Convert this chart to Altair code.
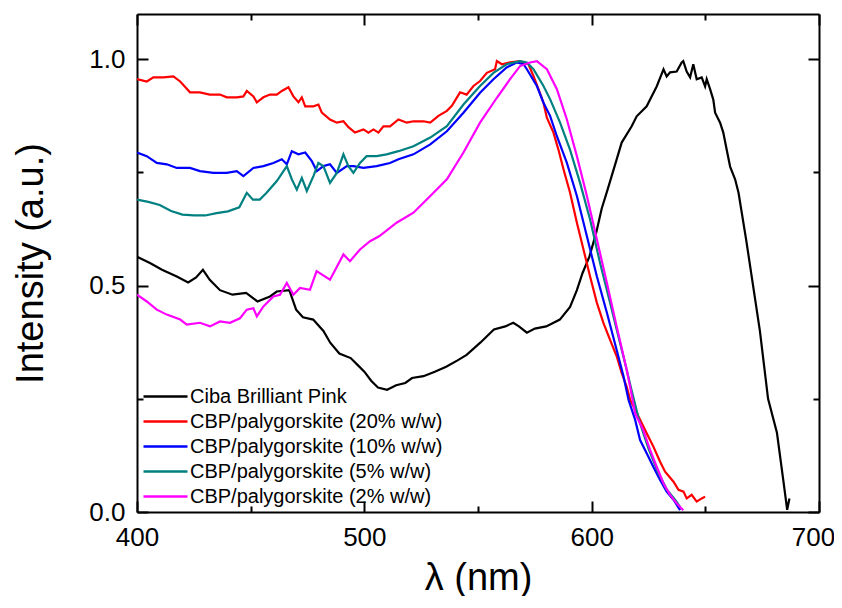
import altair as alt
import pandas as pd

# ---------------- data ----------------
names = [
    "Ciba Brilliant Pink",
    "CBP/palygorskite (20% w/w)",
    "CBP/palygorskite (10% w/w)",
    "CBP/palygorskite (5% w/w)",
    "CBP/palygorskite (2% w/w)",
]
colors = ["#000000", "#FF0000", "#0000FF", "#008080", "#FF00FF"]

ciba_wl = [400, 405.7, 411, 417.5, 422.5, 426, 429, 432, 436.5, 442, 448, 453, 458.5, 461.5, 467, 470,
           473, 477.5, 482, 485, 489, 494, 497, 500, 503, 506, 510, 514, 518, 521, 526, 531, 536, 541,
           545, 551, 557, 562, 565.5, 568, 571.5, 575, 580, 586, 590.5, 593.5, 596, 599, 602, 604.4,
           607, 611, 613.2, 617.6, 619.8, 624.2, 625.7, 628.6, 631.6, 633, 634.5, 637.4, 639.6, 640.3,
           641.8, 643.3, 644.7, 646.2, 648.4, 649.9, 650.6, 652.1, 653.5, 654.3, 656.5, 657.9, 659.4,
           660.9, 663.1, 664.6, 668, 671, 674, 677.6, 681.5, 684.3, 686, 687]
ciba_int = [0.564, 0.55, 0.535, 0.52, 0.507, 0.518, 0.535, 0.513, 0.49, 0.48, 0.484, 0.465, 0.476, 0.487,
            0.49, 0.447, 0.43, 0.425, 0.40, 0.374, 0.35, 0.34, 0.325, 0.31, 0.29, 0.275, 0.27, 0.28,
            0.285, 0.296, 0.30, 0.31, 0.321, 0.335, 0.347, 0.374, 0.403, 0.41, 0.418, 0.41, 0.396,
            0.405, 0.41, 0.425, 0.453, 0.49, 0.528, 0.564, 0.617, 0.67, 0.712, 0.779, 0.816, 0.852,
            0.874, 0.896, 0.911, 0.94, 0.978, 0.962, 0.971, 0.973, 0.993, 0.996, 0.973, 0.96, 0.989,
            0.956, 0.96, 0.94, 0.956, 0.934, 0.911, 0.882, 0.86, 0.838, 0.80, 0.763, 0.735, 0.705,
            0.60, 0.50, 0.40, 0.25, 0.175, 0.07, 0.005, 0.03]

p20_wl = [400, 404.3, 407.2, 411.6, 416, 419, 421, 423.3, 427.7, 432, 436.5, 439.5, 443.9, 446.8, 448.3,
          451.2, 452.7, 455.6, 458.5, 461.5, 463.7, 466.6, 468.8, 471, 472.5, 474, 477.6, 479.8, 481.3,
          484.9, 487.9, 490.8, 493, 495.9, 499.6, 501.8, 504, 506.2, 508.4, 511.3, 515, 518.7, 521.6,
          526, 529, 532.6, 536.3, 538.5, 542.1, 545, 548, 550.9, 553.9, 557.5, 558.3, 560.5, 564.1,
          568.5, 572.2, 574.4, 576.6, 578.8, 580.3, 583.2, 585.4, 587.6, 590.5, 593.5, 596.4, 599.3,
          602.3, 605.2, 608.1, 611, 613.2, 615.4, 616.9, 621.3, 624.2, 627.1, 630.1, 632.3, 636, 638.2,
          640.4, 641.8, 644, 646.2, 648.4, 649.9]
p20_int = [0.956, 0.951, 0.96, 0.96, 0.962, 0.951, 0.94, 0.927, 0.927, 0.922, 0.922, 0.916, 0.916, 0.918,
           0.93, 0.918, 0.905, 0.916, 0.922, 0.922, 0.93, 0.938, 0.918, 0.905, 0.916, 0.896, 0.896, 0.90,
           0.882, 0.867, 0.86, 0.863, 0.85, 0.838, 0.845, 0.838, 0.845, 0.838, 0.852, 0.852, 0.867, 0.86,
           0.863, 0.863, 0.86, 0.875, 0.886, 0.897, 0.927, 0.922, 0.941, 0.952, 0.97, 0.978, 0.996, 0.989,
           0.993, 0.996, 0.989, 0.963, 0.934, 0.904, 0.871, 0.838, 0.80, 0.757, 0.705, 0.639, 0.58, 0.52,
           0.462, 0.417, 0.38, 0.344, 0.307, 0.277, 0.248, 0.204, 0.174, 0.145, 0.111, 0.089, 0.067,
           0.049, 0.045, 0.030, 0.038, 0.023, 0.030, 0.034]

p10_wl = [400, 404.3, 408.7, 413.1, 417.5, 423.3, 427.7, 433.6, 439.5, 443.9, 446.8, 451.2, 455.6, 460,
          463.7, 465.9, 468.1, 471, 474, 476.9, 479.1, 482, 484.9, 487.9, 492.3, 495.2, 499.6, 505.4,
          511.3, 515, 521.6, 529, 536.3, 543.6, 550.9, 556.8, 562.6, 567, 570, 571.5, 575.9, 578.8,
          581.7, 584.7, 589.1, 593.5, 597.9, 602.3, 606.7, 611, 614, 616.2, 619.1, 621.3, 624.2, 627.1,
          630.1, 633, 636, 638.9]
p10_int = [0.794, 0.786, 0.771, 0.768, 0.76, 0.76, 0.753, 0.749, 0.749, 0.753, 0.742, 0.76, 0.764, 0.771,
           0.779, 0.768, 0.797, 0.79, 0.794, 0.775, 0.753, 0.764, 0.768, 0.749, 0.764, 0.764, 0.76, 0.764,
           0.771, 0.779, 0.79, 0.812, 0.841, 0.882, 0.926, 0.956, 0.982, 0.993, 0.989, 0.978, 0.941,
           0.904, 0.875, 0.83, 0.771, 0.698, 0.609, 0.52, 0.44, 0.358, 0.30, 0.248, 0.204, 0.159, 0.13,
           0.10, 0.071, 0.045, 0.027, 0.004]

p5_wl = [400, 405, 410, 415, 420, 425, 430, 435, 440, 445, 448.3, 451, 454, 457, 461.5, 465.9, 468.1,
         470.3, 472.5, 474.7, 477.6, 479.8, 482, 484.9, 487.9, 490.8, 493, 495.2, 498.1, 501, 505.4,
         509.8, 515, 521.6, 529, 536.3, 543.6, 550.9, 556.8, 562.6, 568.5, 571.5, 574.4, 578.8, 581.7,
         586.1, 590.5, 594.9, 599.3, 603.7, 608.1, 612.5, 615.4, 617.5, 621, 625, 629, 633, 637, 639]
p5_int = [0.69, 0.685, 0.678, 0.665, 0.657, 0.655, 0.655, 0.66, 0.664, 0.673, 0.705, 0.69, 0.69, 0.705,
          0.731, 0.764, 0.735, 0.712, 0.738, 0.709, 0.742, 0.771, 0.764, 0.727, 0.749, 0.79, 0.764, 0.749,
          0.771, 0.786, 0.786, 0.79, 0.797, 0.808, 0.827, 0.852, 0.90, 0.941, 0.97, 0.989, 0.996, 0.993,
          0.978, 0.941, 0.912, 0.86, 0.80, 0.727, 0.646, 0.55, 0.462, 0.373, 0.314, 0.27, 0.2, 0.14,
          0.09, 0.05, 0.025, 0.01]

p2_wl = [400, 404.3, 408.7, 413.1, 419, 421.9, 427.7, 432.1, 436.5, 440.9, 445.3, 448.3, 451.2, 452.7,
         455.6, 460, 462.9, 465.9, 468.8, 471.7, 476.1, 479, 484.9, 490.8, 493.7, 498.1, 502.5, 506.5,
         514.2, 521.6, 529, 536.3, 543.6, 550.9, 558.3, 564.1, 568.5, 572.9, 575.9, 580.3, 584.7, 589.1,
         593.5, 597.9, 602.3, 606.7, 611, 615.4, 616.9, 619.1, 622.7, 625.7, 628.6, 631.6, 634.5, 637.4,
         640.3]
p2_int = [0.48, 0.465, 0.447, 0.436, 0.425, 0.414, 0.418, 0.41, 0.421, 0.418, 0.428, 0.447, 0.45, 0.432,
          0.454, 0.476, 0.48, 0.506, 0.48, 0.495, 0.491, 0.532, 0.513, 0.569, 0.554, 0.58, 0.598, 0.609,
          0.639, 0.661, 0.698, 0.735, 0.794, 0.86, 0.915, 0.956, 0.985, 0.993, 0.996, 0.978, 0.934, 0.867,
          0.786, 0.698, 0.602, 0.506, 0.41, 0.314, 0.277, 0.218, 0.181, 0.137, 0.10, 0.063, 0.038, 0.019,
          0.004]

x_ticks = [400, 450, 500, 550, 600, 650, 700]
y_ticks = [0.0, 0.25, 0.5, 0.75, 1.0]

# ---------------- table ----------------
series = [(names[0], ciba_wl, ciba_int), (names[1], p20_wl, p20_int), (names[2], p10_wl, p10_int),
          (names[3], p5_wl, p5_int), (names[4], p2_wl, p2_int)]
rows = []
for name, wl, it in series:
    for w, v in zip(wl, it):
        rows.append({"series": name, "wl": w, "I": v})
df = pd.DataFrame(rows)

FONT = "Liberation Sans"
x_scale = alt.Scale(domain=[400, 700], nice=False, zero=False)
y_scale = alt.Scale(domain=[0, 1.1], nice=False, zero=False)

x_tick_size = {"expr": "datum.value % 100 === 0 ? -11 : -6"}
y_tick_size = {"expr": "abs(datum.value * 2 - round(datum.value * 2)) < 0.001 ? -11 : -6"}

common_axis = dict(
    domainColor="black", domainWidth=2, tickColor="black", tickWidth=2,
    labelFont=FONT, labelFontSize=26, labelColor="black", labelPadding=23,
    labelOverlap=False, labelFlush=False, grid=False,
    titleFont=FONT, titleFontSize=38, titleFontWeight="normal", titleColor="black",
)

x_axis = alt.Axis(
    orient="bottom", values=x_ticks, tickSize=x_tick_size,
    labelExpr="datum.value % 100 === 0 ? datum.label : ''",
    labelOffset={"expr": "datum.value === 700 ? -6 : 0"},
    title="λ (nm)", titleX=341, titleY=77, titleAlign="center", titleBaseline="alphabetic",
    **common_axis,
)
y_axis = alt.Axis(
    orient="left", values=y_ticks, tickSize=y_tick_size, format=".1f",
    labelExpr="abs(datum.value * 2 - round(datum.value * 2)) < 0.001 ? datum.label : ''",
    title="Intensity (a.u.)", titleX=-95, titleY=249, titleAngle=270, titleAlign="center",
    titleBaseline="alphabetic",
    **common_axis,
)
x_axis_top = alt.Axis(orient="top", values=x_ticks, tickSize=x_tick_size, labels=False, title=None,
                      domainColor="black", domainWidth=2, tickColor="black", tickWidth=2, grid=False)
y_axis_right = alt.Axis(orient="right", values=y_ticks, tickSize=y_tick_size, labels=False, title=None,
                        domainColor="black", domainWidth=2, tickColor="black", tickWidth=2, grid=False)

lines = alt.Chart(df).mark_line(strokeWidth=2.2, clip=True).encode(
    x=alt.X("wl:Q", scale=x_scale, axis=x_axis),
    y=alt.Y("I:Q", scale=y_scale, axis=y_axis),
    color=alt.Color(
        "series:N",
        scale=alt.Scale(domain=names, range=colors),
        sort=names,
        legend=alt.Legend(
            title=None, orient="none", legendX=17, legendY=371, padding=0,
            symbolType="M-2.2,0L2.2,0", symbolSize=400, symbolStrokeWidth=2.5,
            labelFont=FONT, labelFontSize=20, labelColor="black", labelOffset=13,
            labelLimit=500, rowPadding=3,
        ),
    ),
)

frame = alt.Chart(df).mark_line(strokeOpacity=0).encode(
    x=alt.X("wl:Q", scale=x_scale, axis=x_axis_top),
    y=alt.Y("I:Q", scale=y_scale, axis=y_axis_right),
    detail="series:N",
)

chart = alt.layer(lines, frame).properties(
    width=682, height=498,
    autosize=alt.AutoSizeParams(type="none"),
    padding={"left": 129, "top": 6, "right": 15, "bottom": 84},
).configure_view(stroke=None)

chart.save("out.html", embed_options={"renderer": "svg", "actions": False})
